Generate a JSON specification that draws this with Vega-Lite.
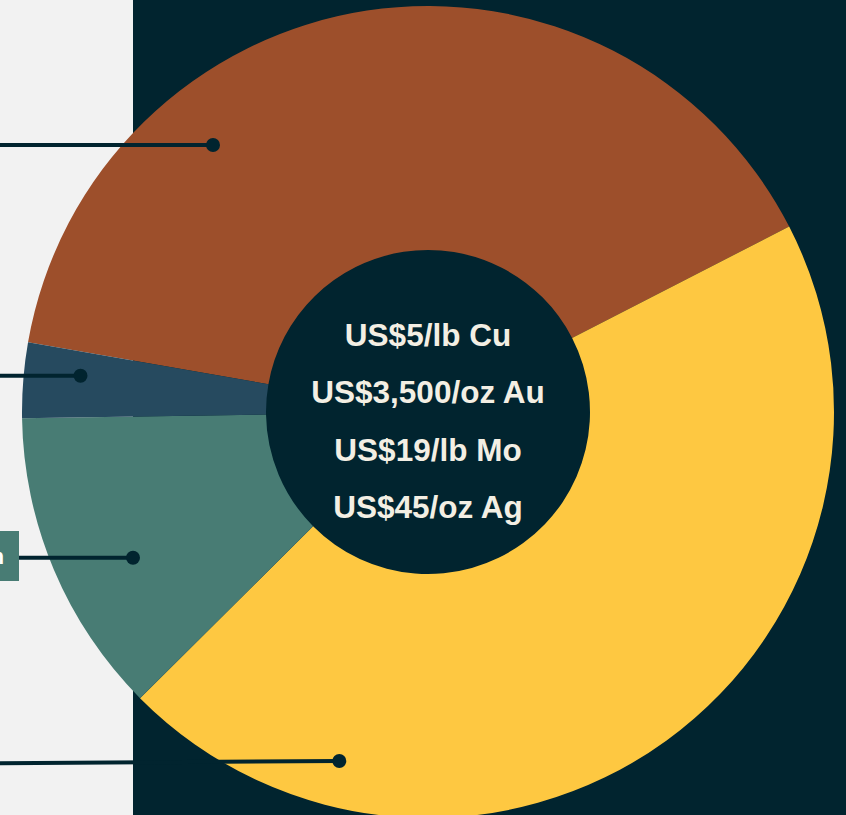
{
  "$schema": "https://vega.github.io/schema/vega-lite/v6.json",
  "width": 846,
  "height": 815,
  "autosize": {"type": "none"},
  "padding": 0,
  "background": "#01242f",
  "config": {"view": {"stroke": null}},
  "datasets": {
    "slices": [
      {"metal": "Cu", "share": 39.7, "order": 1},
      {"metal": "Au", "share": 45.1, "order": 2},
      {"metal": "Mo", "share": 12.2, "order": 3},
      {"metal": "Ag", "share": 3.0, "order": 4}
    ],
    "leaders": [
      {"metal": "Cu", "xs": 0, "xe": 213, "ys": 145, "ye": 145},
      {"metal": "Ag", "xs": 0, "xe": 80.5, "ys": 375.7, "ye": 375.7},
      {"metal": "Mo", "xs": 19, "xe": 133, "ys": 557.7, "ye": 557.7},
      {"metal": "Au", "xs": 0, "xe": 339.3, "ys": 763.3, "ye": 761}
    ],
    "prices": [
      {"line": 1, "label": "US$5/lb Cu"},
      {"line": 2, "label": "US$3,500/oz Au"},
      {"line": 3, "label": "US$19/lb Mo"},
      {"line": 4, "label": "US$45/oz Ag"}
    ]
  },
  "layer": [
    {
      "layer": [
        {
          "data": {"values": [{}]},
          "mark": {"type": "rect", "fill": "#f2f2f2"},
          "encoding": {
            "x": {"datum": 0, "type": "quantitative", "scale": {"domain": [0, 846]}, "axis": null},
            "x2": {"datum": 133},
            "y": {"datum": 0, "type": "quantitative", "scale": {"domain": [0, 815], "reverse": true}, "axis": null},
            "y2": {"datum": 815}
          }
        },
        {
          "data": {"name": "slices"},
          "mark": {"type": "arc", "innerRadius": 162, "outerRadius": 406},
          "encoding": {
            "theta": {"field": "share", "type": "quantitative", "stack": true, "scale": {"range": [-1.398, 4.8852]}},
            "color": {"field": "metal", "type": "nominal", "scale": {"domain": ["Cu", "Au", "Mo", "Ag"], "range": ["#9d4f2b", "#fec841", "#487c74", "#264a5f"]}, "legend": null},
            "order": {"field": "order", "type": "quantitative"},
            "x": {"datum": 428, "type": "quantitative", "scale": {"domain": [0, 846]}, "axis": null},
            "y": {"datum": 412, "type": "quantitative", "scale": {"domain": [0, 815], "reverse": true}, "axis": null}
          }
        },
        {
          "data": {"values": [{"metal": "Mo", "label": "Molybdenum"}]},
          "layer": [
            {
              "mark": {"type": "rect", "fill": "#487c74"},
              "encoding": {
                "x": {"datum": 0, "type": "quantitative", "scale": {"domain": [0, 846]}, "axis": null},
                "x2": {"datum": 19},
                "y": {"datum": 531, "type": "quantitative", "scale": {"domain": [0, 815], "reverse": true}, "axis": null},
                "y2": {"datum": 581}
              }
            },
            {
              "mark": {"type": "text", "align": "right", "baseline": "alphabetic", "font": "Liberation Sans", "fontWeight": "bold", "fontSize": 22, "color": "#ffffff"},
              "encoding": {
                "x": {"datum": 4, "type": "quantitative", "scale": {"domain": [0, 846]}, "axis": null},
                "y": {"datum": 564, "type": "quantitative", "scale": {"domain": [0, 815], "reverse": true}, "axis": null},
                "text": {"field": "label"}
              }
            }
          ]
        },
        {
          "data": {"name": "leaders"},
          "mark": {"type": "rule", "color": "#01242f", "strokeWidth": 4},
          "encoding": {
            "x": {"field": "xs", "type": "quantitative", "scale": {"domain": [0, 846]}, "axis": null},
            "x2": {"field": "xe"},
            "y": {"field": "ys", "type": "quantitative", "scale": {"domain": [0, 815], "reverse": true}, "axis": null},
            "y2": {"field": "ye"}
          }
        },
        {
          "data": {"name": "leaders"},
          "mark": {"type": "point", "filled": true, "shape": "circle", "size": 195, "color": "#01242f", "opacity": 1},
          "encoding": {
            "x": {"field": "xe", "type": "quantitative", "scale": {"domain": [0, 846]}, "axis": null},
            "y": {"field": "ye", "type": "quantitative", "scale": {"domain": [0, 815], "reverse": true}, "axis": null}
          }
        }
      ]
    },
    {
      "data": {"name": "prices"},
      "mark": {"type": "text", "align": "center", "baseline": "alphabetic", "font": "Liberation Sans", "fontWeight": "bold", "fontSize": 31.5, "color": "#f3efe4"},
      "encoding": {
        "x": {"datum": 428, "type": "quantitative", "scale": {"domain": [0, 846]}, "axis": null},
        "y": {"field": "line", "type": "ordinal", "scale": {"type": "point", "domain": [1, 2, 3, 4], "range": [345.5, 518], "padding": 0}, "axis": null},
        "text": {"field": "label"}
      }
    }
  ],
  "resolve": {"scale": {"y": "independent"}}
}
